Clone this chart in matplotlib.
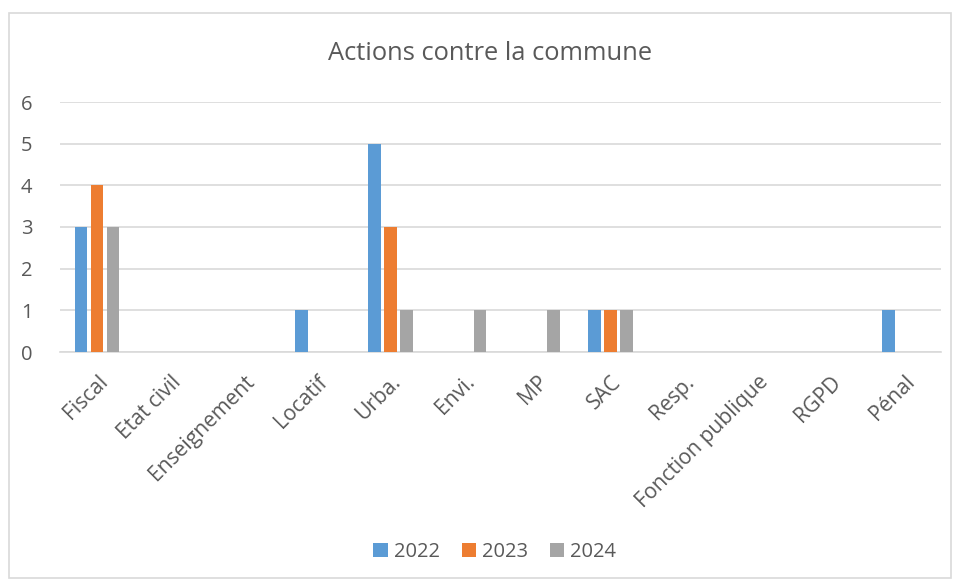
import matplotlib.pyplot as plt
import numpy as np
from matplotlib.patches import Rectangle

plt.rcParams['font.family'] = ['Open Sans', 'DejaVu Sans']

categories = ['Fiscal', 'Etat civil', 'Enseignement', 'Locatif', 'Urba.', 'Envi.',
              'MP', 'SAC', 'Resp.', 'Fonction publique', 'RGPD', 'Pénal']
years = ['2022', '2023', '2024']
v2022 = [3, 0, 0, 1, 5, 0, 0, 1, 0, 0, 0, 1]
v2023 = [4, 0, 0, 0, 3, 0, 0, 1, 0, 0, 0, 0]
v2024 = [3, 0, 0, 0, 1, 1, 1, 1, 0, 0, 0, 0]
colors = ['#5B9BD5', '#ED7D31', '#A5A5A5']

text_col = '#595959'
grid_col = '#D9D9D9'

fig = plt.figure(figsize=(9.59, 5.83), dpi=100)
fig.patches.append(Rectangle((8.5 / 959, 5 / 583), 942 / 959, 565 / 583,
                             transform=fig.transFigure, fill=False,
                             edgecolor=grid_col, linewidth=1.2))
ax = fig.add_axes([60.3 / 959, 1 - 352 / 583, 880.7 / 959, 250 / 583])

x = np.arange(len(categories))
width = 0.175
step = 0.218
for i, (vals, yr) in enumerate(zip([v2022, v2023, v2024], years)):
    ax.bar(x + (i - 1) * step, vals, width, color=colors[i], label=yr, zorder=3)

ax.set_xlim(-0.5, len(categories) - 0.5)
ax.set_ylim(0, 6)
ax.set_yticks(range(0, 7))
ax.yaxis.grid(True, color=grid_col, linewidth=1.2, zorder=0)
for s in ['top', 'right', 'left']:
    ax.spines[s].set_visible(False)
ax.spines['bottom'].set_color(grid_col)
ax.spines['bottom'].set_linewidth(1.2)
ax.tick_params(axis='y', length=0, colors=text_col, labelsize=14.5, pad=20)
ax.set_xticks(x)
ax.set_xticklabels(categories, rotation=45, ha='right', va='top',
                   rotation_mode='anchor')
ax.tick_params(axis='x', length=0, colors=text_col, labelsize=15.2, pad=14)

fig.text(0.511, 1 - 53 / 583, 'Actions contre la commune', ha='center',
         va='center', fontsize=18.4, color=text_col)

fig.legend(loc='center', bbox_to_anchor=(0.516, 1 - 552 / 583), ncol=3,
           frameon=False, fontsize=14.5, labelcolor=text_col, handlelength=0.7,
           handleheight=0.7, handletextpad=0.3, columnspacing=1.1)

plt.savefig('out.png', dpi=100)
